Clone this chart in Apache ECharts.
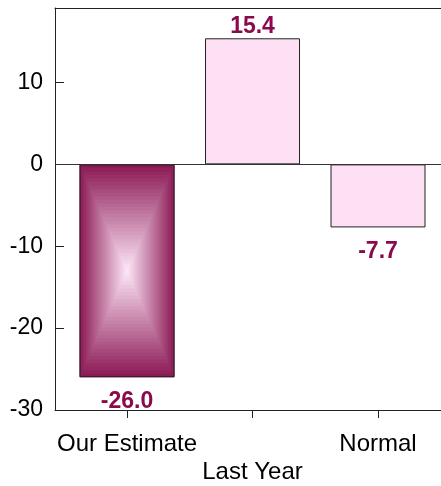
<!DOCTYPE html>
<html>
<head>
<meta charset="utf-8">
<script src="https://cdn.jsdelivr.net/npm/echarts@6/dist/echarts.min.js"></script>
<style>
  html, body { margin: 0; padding: 0; background: #ffffff; }
  #chart { width: 441px; height: 486px; }
</style>
</head>
<body>
<div id="chart"></div>
<script>
// Values: change versus each reference
const categories = ['Our Estimate', 'Last Year', 'Normal'];
const values = [-26.0, 15.4, -7.7];
const yTicks = [-30, -20, -10, 0, 10];
const featuredIndex = 0; // bar drawn with the pyramid shading

const FONT = '"Liberation Sans", Arial, Helvetica, sans-serif';
const LABEL_COLOR = '#8a0a4b';
const BAR_FILL = '#fde0f4';
const LINE_COLOR = '#222222';
const EDGE_RGB = [0x8c, 0x1a, 0x56];
const CENTER_RGB = [0xfb, 0xe4, 0xf4];
const BAR_WIDTH = 95;

function shade(t) {
  const c = EDGE_RGB.map((e, k) => Math.round(e + (CENTER_RGB[k] - e) * t));
  return 'rgb(' + c.join(',') + ')';
}

const xIdx = categories.map((_, i) => i);

const barData = values.map((v, i) => ({
  value: [i, v],
  itemStyle: { color: i === featuredIndex ? 'rgba(0,0,0,0)' : BAR_FILL },
  label: { position: v < 0 ? 'bottom' : 'top', distance: v < 0 ? 13 : 0 }
}));

const featuredData = [[featuredIndex, values[featuredIndex]]];

const chart = echarts.init(document.getElementById('chart'), null, { renderer: 'canvas' });

chart.setOption({
  animation: false,
  backgroundColor: '#ffffff',
  grid: { left: 55, right: 0, top: 8, bottom: 73, containLabel: false },
  xAxis: [{
    type: 'value',
    min: -0.574,
    max: 2.502,
    position: 'bottom',
    splitLine: { show: false },
    axisLine: { show: true, onZero: false, lineStyle: { color: LINE_COLOR, width: 1 } },
    axisTick: { show: true, customValues: xIdx, length: 8, inside: false, lineStyle: { color: LINE_COLOR } },
    axisLabel: {
      customValues: xIdx,
      margin: 20,
      color: '#000000',
      fontFamily: FONT,
      fontSize: 24,
      lineHeight: 28,
      formatter: function (v) {
        const i = Math.round(v);
        return i % 2 === 1 ? '\n' + categories[i] : categories[i];
      }
    }
  }, {
    type: 'value',
    min: -0.574,
    max: 2.502,
    position: 'top',
    splitLine: { show: false },
    axisLine: { show: true, onZero: false, lineStyle: { color: LINE_COLOR, width: 1 } },
    axisTick: { show: false },
    axisLabel: { show: false }
  }],
  yAxis: {
    type: 'value',
    min: -30,
    max: 19.1,
    splitLine: { show: false },
    axisLine: { show: true, onZero: false, lineStyle: { color: LINE_COLOR, width: 1 } },
    axisTick: { show: true, inside: true, length: 9, customValues: yTicks, lineStyle: { color: LINE_COLOR } },
    axisLabel: {
      customValues: yTicks,
      margin: 12,
      color: '#000000',
      fontFamily: FONT,
      fontSize: 23
    }
  },
  series: [{
    type: 'custom',
    xAxisIndex: 0,
    z: 1,
    silent: true,
    data: featuredData,
    renderItem: function (params, api) {
      const x = api.value(0);
      const v = api.value(1);
      const p0 = api.coord([x, 0]);
      const p1 = api.coord([x, v]);
      const w = BAR_WIDTH;
      const h = Math.abs(p1[1] - p0[1]);
      const cx = p0[0];
      const cy = Math.min(p0[1], p1[1]) + h / 2;
      const steps = 30;
      const children = [];
      for (let k = 0; k < steps; k++) {
        const s = 1 - k / steps;
        children.push({
          type: 'rect',
          shape: { x: cx - w * s / 2, y: cy - h * s / 2, width: w * s, height: h * s },
          style: { fill: shade(k / (steps - 1)) }
        });
      }
      return { type: 'group', children: children };
    }
  }, {
    type: 'bar',
    xAxisIndex: 0,
    z: 2,
    barWidth: BAR_WIDTH,
    data: barData,
    itemStyle: { borderColor: LINE_COLOR, borderWidth: 1 },
    label: {
      show: true,
      color: LABEL_COLOR,
      fontFamily: FONT,
      fontWeight: 'bold',
      fontSize: 23,
      formatter: function (p) { return p.value[1].toFixed(1); }
    },
    markLine: {
      silent: true,
      symbol: 'none',
      label: { show: false },
      lineStyle: { color: '#333333', width: 1, type: 'solid' },
      data: [{ yAxis: 0 }]
    }
  }]
});
</script>
</body>
</html>
